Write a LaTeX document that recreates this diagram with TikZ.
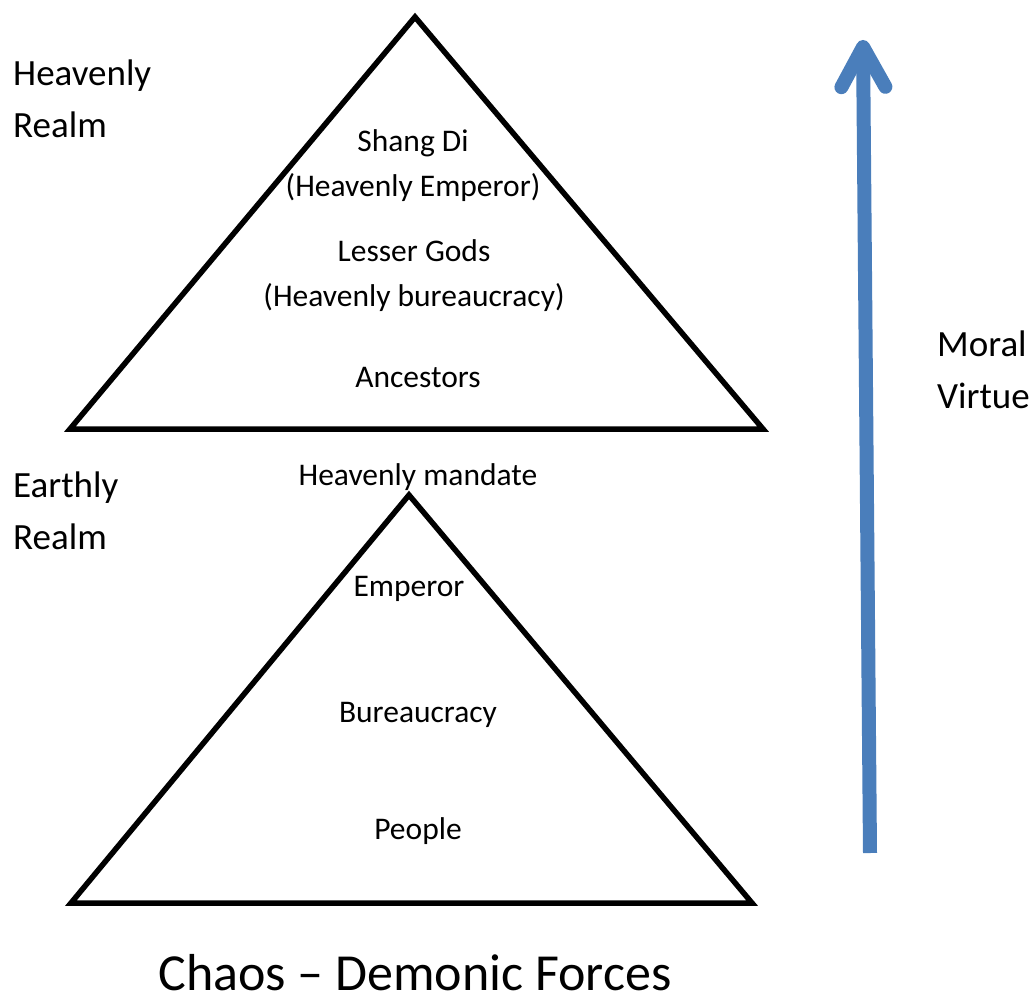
\documentclass[tikz,border=0pt]{standalone}
\usepackage{fontspec}
\setmainfont{Carlito}
\usepackage{xcolor}
\usepackage{tikz}
\usetikzlibrary{
    arrows.meta,
    positioning
}
\definecolor{virtueblue}{HTML}{4A7EBB}
\tikzset{pyramid/.style={
    draw=black,
    line width=5.5pt,
    line join=miter,
}}
\tikzset{rank/.style={
    align=center,
    inner sep=0pt,
    font=\fontsize{31.5}{45}\selectfont,
}}
\tikzset{realm/.style={
    align=left,
    anchor=west,
    inner sep=0pt,
    font=\fontsize{37}{52}\selectfont,
}}
\tikzset{virtue/.style={
    -{Straight Barb[round, length=40pt, width=44pt]},
    line width=14pt,
    color=virtueblue,
}}

\begin{document}
\begin{tikzpicture}[x=1pt, y=-1pt]
            \useasboundingbox (0,0) rectangle (1034,1000);

            % heavenly pyramid
            \coordinate (heaventop) at (415,17);
            \coordinate (heavenleft) at (70,429);
            \coordinate (heavenright) at (763,429);
            \draw[pyramid] (heaventop) -- (heavenleft) -- (heavenright) -- cycle;

            % earthly pyramid
            \coordinate (earthtop) at (409,495);
            \coordinate (earthleft) at (71,903);
            \coordinate (earthright) at (752,903);
            \draw[pyramid] (earthtop) -- (earthleft) -- (earthright) -- cycle;

            \node[rank] (shangdi) at (413,166) {Shang Di\\(Heavenly Emperor)};
            \node[rank] (lessergods) at (414,276) {Lesser Gods\\(Heavenly bureaucracy)};
            \node[rank] (ancestors) at (418,378) {Ancestors};
            \node[rank] (mandate) at (418,477) {Heavenly mandate};
            \node[rank] (emperor) at (409,589) {Emperor};
            \node[rank] (bureaucracy) at (418,715) {Bureaucracy};
            \node[rank] (people) at (418,831) {People};

            \node[realm] (heavenly) at (13,99) {Heavenly\\Realm};
            \node[realm] (earthly) at (13,511) {Earthly\\Realm};
            \node[realm] (moral) at (937,370) {Moral\\Virtue};

            \node[inner sep=0pt, font=\fontsize{52}{60}\selectfont] (chaos) at (415,973) {Chaos -- Demonic Forces};

            % moral virtue arrow
            \coordinate (virtuebottom) at (870,853);
            \coordinate (virtuetop) at (863,40);
            \draw[virtue] (virtuebottom) -- (virtuetop);

        \end{tikzpicture}
\end{document}
